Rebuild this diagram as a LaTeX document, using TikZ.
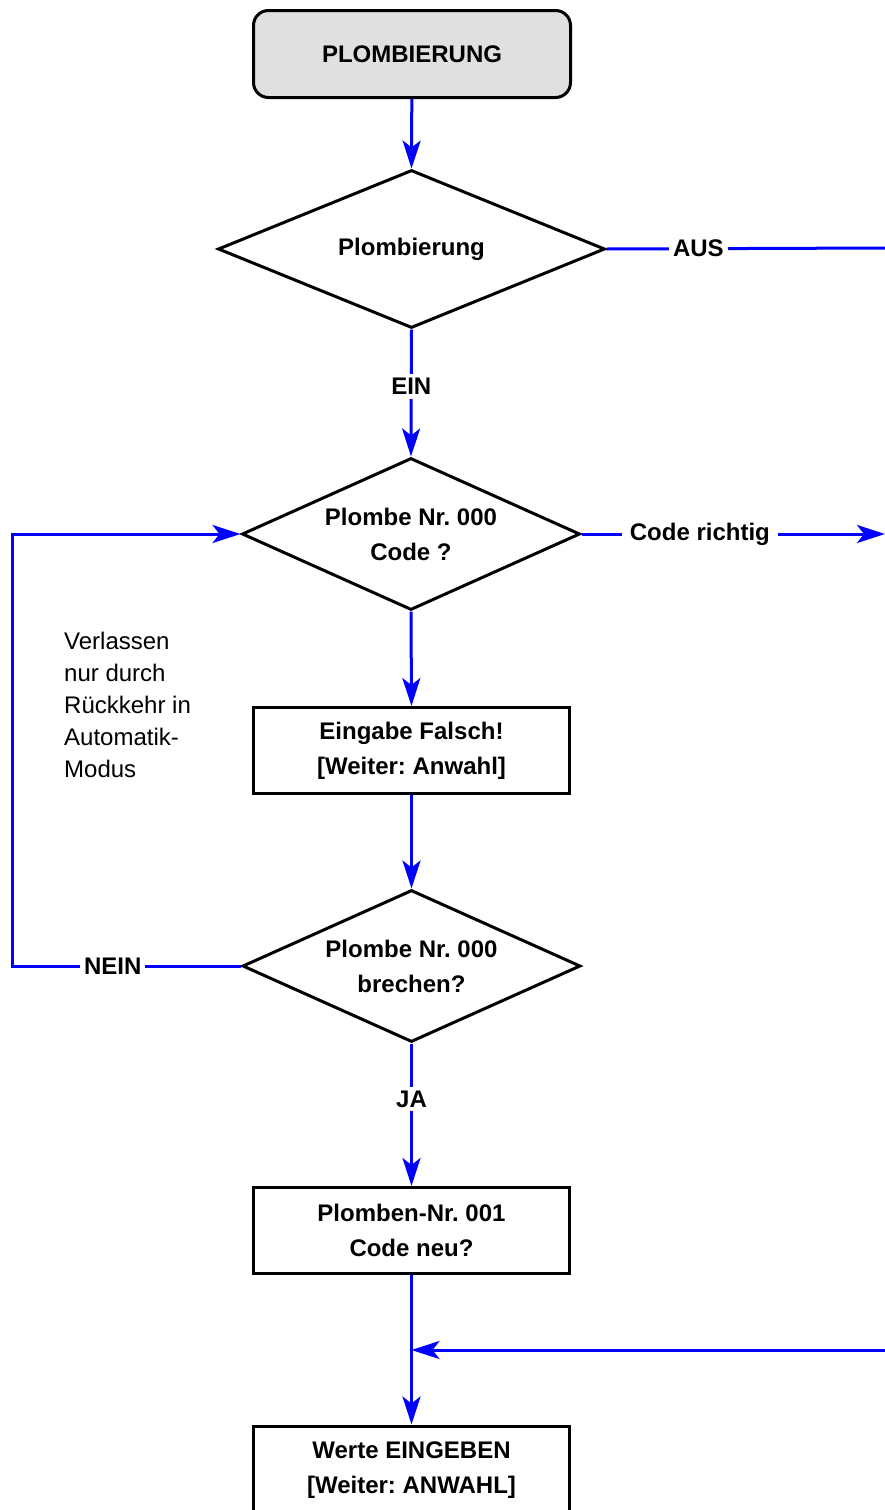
\documentclass[tikz,border=0pt]{standalone}
\usepackage{fontspec}
\setmainfont{Liberation Sans}
\usepackage{tikz}
\usetikzlibrary{shapes.geometric,arrows.meta}
\definecolor{startgray}{RGB}{224,224,224}
\frenchspacing

\begin{document}
\begin{tikzpicture}
        [%%%%%%%%%%%%%%%%%%%%%%%%%%%%%%
        x=1pt, y=-1pt,
        every node/.style={font=\fontsize{24}{35}\selectfont\bfseries},
        start/.style={rectangle, rounded corners=15pt, draw=black, fill=startgray, line width=3pt, minimum width=317pt, minimum height=87pt},
        box/.style={rectangle, draw=black, line width=3pt, minimum width=316pt, minimum height=86pt, align=center, inner sep=0pt},
        ask/.style={diamond, draw=black, line width=3pt, align=center, inner sep=0pt},
        flow/.style={draw=blue, line width=3pt, -{Stealth[length=28pt,width=18pt,inset=7pt]}},
        wire/.style={draw=blue, line width=3pt},
        lbl/.style={fill=white, inner sep=4pt},
        ]%%%%%%%%%%%%%%%%%%%%%%%%%%%%%%
        \useasboundingbox (0,0) rectangle (885,1510);
        % Boxes and questions
        \node[start] (start) at (412,54) {PLOMBIERUNG};
        \node[ask, aspect=2.45, minimum width=387pt, minimum height=158pt] (plomb) at (411.5,249) {Plombierung};
        \node[ask, aspect=2.22, minimum width=338pt, minimum height=152pt] (nummer) at (411,534) {Plombe Nr. 000\\Code ?};
        \node[box] (falsch) at (411.5,750.5) {Eingabe Falsch!\\{}[Weiter: Anwahl]};
        \node[ask, aspect=2.22, minimum width=338pt, minimum height=152pt] (brechen) at (411.5,966) {Plombe Nr. 000\\brechen?};
        \node[box] (neu) at (411.5,1230.5) {Plomben-Nr. 001\\Code neu?};
        \node[box, minimum height=88pt] (werte) at (411.5,1470) {Werte EINGEBEN\\{}[Weiter: ANWAHL]};
        % Note
        \node[anchor=north west, align=left, inner sep=0pt, font=\fontsize{24}{32}\selectfont] (note) at (64,632)
          {Verlassen\\nur durch\\Rückkehr in\\Automatik-\\Modus};
        % Free ends
        \coordinate (aus) at (885,248);
        \coordinate (richtig) at (885,534);
        \coordinate (loop) at (12,534);
        \coordinate (rueck) at (885,1350);
        % Lines
        \draw[flow] (start) -- (plomb.north);
        \draw[wire] (plomb.east) -- node[lbl, pos=0.33] {AUS} (aus);
        \draw[flow] (plomb.south) -- node[lbl, pos=0.45] {EIN} (nummer.north);
        \draw[flow] (nummer.east) -- node[lbl, inner xsep=8pt, pos=0.39] {Code richtig} (richtig);
        \draw[flow] (nummer.south) -- (falsch.north);
        \draw[flow] (falsch.south) -- (brechen.north);
        \draw[flow] (brechen.west) -- node[lbl, pos=0.56] {NEIN} (loop |- brechen.west) -- (loop) -- (nummer.west);
        \draw[flow] (brechen.south) -- node[lbl, pos=0.39] {JA} (neu.north);
        \draw[flow] (neu.south) -- (werte.north);
        \draw[flow] (rueck) -- (rueck -| neu.south);
      \end{tikzpicture}
\end{document}
